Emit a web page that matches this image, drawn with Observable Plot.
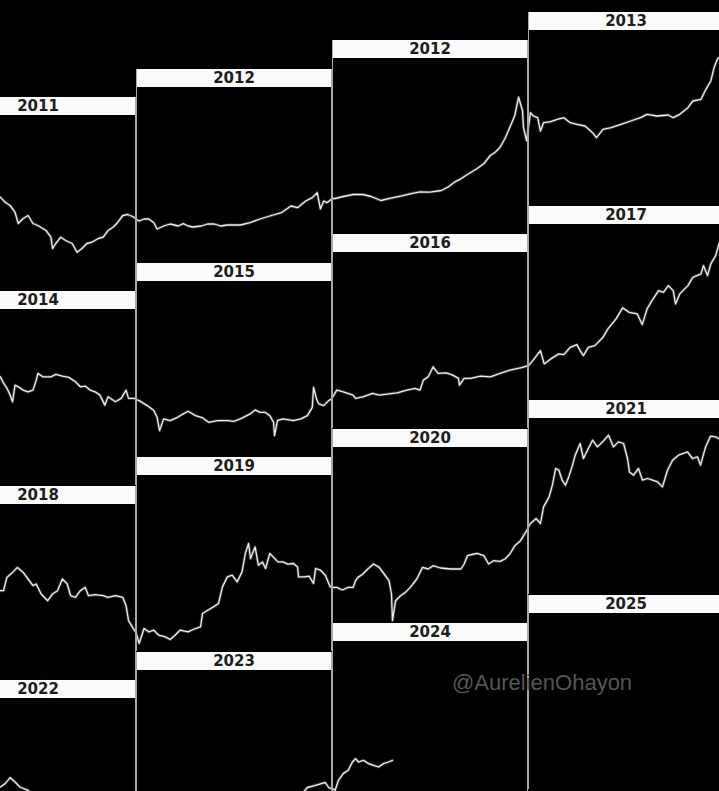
<!DOCTYPE html>
<html><head><meta charset="utf-8">
<script src="https://cdn.jsdelivr.net/npm/d3@7"></script>
<script src="https://cdn.jsdelivr.net/npm/@observablehq/plot@0.6"></script>
<style>
html,body{margin:0;padding:0;background:#000;}
#chart{position:relative;width:719px;height:791px;overflow:hidden;background:#000;}
.panel{position:absolute;width:194px;border-left:1px solid #a9a9a9;border-right:1px solid #a9a9a9;background:#000;}
.label{height:18px;line-height:18px;background:#fbfbfb;color:#1d1d1d;font:bold 15px "DejaVu Sans",sans-serif;text-align:center;}
.panel svg{display:block;}
.wm{position:absolute;left:452px;top:672px;font:22px "Liberation Sans",Arial,sans-serif;color:#555;line-height:22px;white-space:nowrap;}
</style></head><body><div id="chart"></div>
<script>
// Year label of each panel, row by row (4 columns per row)
const yearLabels = [
  ["2011","2012","2012","2013"],
  ["2014","2015","2016","2017"],
  ["2018","2019","2020","2021"],
  ["2022","2023","2024","2025"]
];
// Each row: [month since row start (12 per column), price level]
const rowA = [[3.6,94.3],[3.9,89.3],[4.2,86],[4.5,79.3],[4.7,68],[5.0,73],[5.3,76],[5.6,68],[5.9,66],[6.4,61],[6.7,54.3],[6.8,43],[7.0,48],[7.3,54.3],[7.6,51],[8.0,48],[8.3,39.3],[8.6,43],[8.9,48],[9.2,49.3],[9.6,53],[9.9,54.3],[10.2,61],[10.5,64.3],[10.8,69.3],[11.1,76],[11.4,77],[11.7,75],[11.9,73],[12.1,71],[12.4,73],[12.7,73],[13.0,69.3],[13.2,63],[13.6,66],[14.0,68],[14.5,66],[14.8,68.3],[15.1,66],[15.4,65],[15.9,66],[16.3,68],[16.7,68],[17.1,66],[17.5,67],[18.3,67],[18.9,69.3],[19.5,73],[20.1,76],[20.8,79.3],[21.4,86],[21.8,84.3],[22.3,91],[22.7,94.3],[23.0,99.3],[23.2,83],[23.4,91],[23.6,89.3],[23.9,93],[24.1,93],[24.6,95],[25.2,97],[25.8,97],[26.3,95],[26.9,91],[27.5,93.3],[28.1,95.3],[28.7,97.7],[29.3,99.7],[29.9,99.3],[30.6,101],[31.0,104.3],[31.4,109.3],[31.8,112.7],[32.1,116],[32.4,119],[32.8,123],[33.2,127.7],[33.6,136],[33.9,139.3],[34.2,144.3],[34.5,153],[34.8,164.3],[35.1,176],[35.33,194.3],[35.57,181],[35.63,164.3],[35.82,151],[36.06,179.3],[36.24,176],[36.5,174.3],[36.67,161],[36.86,169.3],[37.3,170.3],[37.7,172.7],[38.1,174.3],[38.5,169.3],[38.9,167.7],[39.4,166],[39.86,159.3],[40.1,154.3],[40.5,162.7],[41.0,164.3],[41.6,167.7],[42.2,171],[42.8,174.3],[43.2,177.7],[43.8,176],[44.5,177],[44.8,174.3],[45.2,177.7],[45.7,184.3],[46.0,191],[46.5,192.7],[46.8,202.7],[47.1,211],[47.3,224.3],[47.5,232.7],[47.7,236]];
const rowB = [[3.6,108.7],[3.8,102.4],[4.0,97.4],[4.2,90.4],[4.35,83.7],[4.5,100.4],[4.7,98.7],[5.0,95.4],[5.3,93.7],[5.6,95.4],[5.8,105.4],[5.9,112.1],[6.2,108.7],[6.7,108.7],[7.0,111.1],[7.4,109.4],[7.8,108.1],[8.2,103.7],[8.5,98.7],[8.8,99.4],[9.1,95.4],[9.4,93.7],[9.7,90.4],[10.0,80.4],[10.2,88.7],[10.65,83.7],[11.0,87.1],[11.3,95.4],[11.45,87.1],[11.8,87.1],[12.1,85.4],[12.6,80.4],[13.0,75.4],[13.2,68.7],[13.35,55.4],[13.6,67.1],[14.0,65.4],[14.45,68.7],[14.8,72.1],[15.1,74.7],[15.55,70.4],[16.0,68.1],[16.35,63.7],[16.9,65.4],[17.5,65.4],[17.9,64.7],[18.3,67.1],[18.9,72.1],[19.2,76.1],[19.5,73.7],[19.8,73.7],[20.1,70.4],[20.33,63.7],[20.39,50.4],[20.57,65.4],[20.9,67.1],[21.55,65.4],[22.0,67.1],[22.4,70.4],[22.7,78.7],[22.78,98.7],[22.96,87.1],[23.1,82.1],[23.4,80.4],[23.7,85.4],[23.9,87.1],[24.2,95.4],[24.6,93.7],[25.2,90.4],[25.35,87.1],[25.8,88.7],[26.4,92.1],[26.8,90.4],[27.3,91.4],[27.9,92.7],[28.5,95.4],[29.0,97.1],[29.3,95.4],[29.5,105.4],[29.8,108.7],[30.1,118.7],[30.4,112.1],[30.9,112.7],[31.3,110.4],[31.65,107.1],[31.71,100.4],[32.0,107.1],[32.4,107.1],[33.0,109.4],[33.6,108.7],[34.2,112.1],[34.8,115.4],[35.45,117.7],[35.9,119.7],[36.2,125.4],[36.67,135.4],[36.9,122.1],[37.3,127.1],[37.8,132.1],[38.1,131.4],[38.5,138.7],[38.9,141.4],[39.1,135.4],[39.3,130.4],[39.6,138.7],[40.0,140.4],[40.5,148.7],[40.8,157.1],[41.3,167.1],[41.7,178.1],[42.1,173.7],[42.6,172.1],[42.9,161.4],[43.2,177.1],[43.5,185.4],[43.9,195.4],[44.2,193.7],[44.5,200.4],[44.8,195.4],[44.94,182.1],[45.2,192.1],[45.7,200.4],[46.0,208.7],[46.5,212.1],[46.65,220.4],[46.9,210.4],[47.1,222.1],[47.4,230.4],[47.6,242.1],[47.7,246]];
const rowC = [[3.6,89.8],[3.8,89.8],[4.0,103.1],[4.35,108.1],[4.65,113.1],[5.0,108.1],[5.3,101.5],[5.6,94.8],[5.8,96.5],[6.1,86.5],[6.5,79.8],[6.8,86.5],[7.1,89.8],[7.4,101.5],[7.7,96.5],[7.9,84.8],[8.2,83.1],[8.5,89.8],[8.8,93.1],[9.0,84.8],[9.4,85.8],[9.9,84.8],[10.2,83.1],[10.65,84.8],[11.1,83.1],[11.3,74.8],[11.45,59.8],[11.7,53.1],[11.9,48.1],[12.1,36.5],[12.4,51.5],[12.7,48.1],[13.0,49.8],[13.3,44.8],[13.7,43.1],[14.0,40.5],[14.3,44.8],[14.6,49.8],[15.1,48.1],[15.4,50.5],[15.86,53.1],[15.98,66.5],[16.3,69.8],[16.65,73.1],[16.96,76.5],[17.2,93.1],[17.5,103.1],[17.8,104.8],[18.1,98.1],[18.4,108.1],[18.6,126.5],[18.8,136.5],[18.92,121.5],[19.2,133.1],[19.4,114.8],[19.65,118.1],[19.84,111.5],[20.1,126.5],[20.3,123.1],[20.6,118.1],[20.9,118.1],[21.2,115.8],[21.55,116.5],[21.8,113.1],[21.86,103.1],[22.2,103.1],[22.5,103.8],[22.78,96.5],[22.9,111.5],[23.2,109.8],[23.5,104.8],[23.8,93.1],[24.2,93.1],[24.55,90.5],[24.9,93.1],[25.2,93.1],[25.35,99.8],[25.5,103.1],[25.8,106.5],[26.1,111.5],[26.45,116.5],[26.8,113.1],[27.1,106.5],[27.4,99.8],[27.55,86.5],[27.61,59.8],[27.8,79.8],[28.1,84.8],[28.4,88.1],[28.7,93.1],[29.1,101.5],[29.45,113.1],[29.8,111.5],[30.1,114.8],[30.55,112.5],[31.2,111.5],[31.8,111.5],[32.0,116.5],[32.2,124.8],[32.6,126.5],[32.8,127.1],[33.2,124.8],[33.5,116.5],[33.8,119.8],[34.2,119.1],[34.5,121.5],[34.8,126.5],[35.1,134.8],[35.45,139.8],[35.76,148.1],[36.06,156.5],[36.4,161.5],[36.67,156.5],[36.86,173.1],[37.2,183.1],[37.4,194.8],[37.6,211.5],[37.8,209.8],[38.0,199.8],[38.2,194.8],[38.4,203.1],[38.6,213.1],[38.8,224.8],[39.1,236.5],[39.3,221.5],[39.55,229.8],[39.86,239.8],[40.16,233.1],[40.47,238.1],[40.84,244.8],[41.14,233.1],[41.45,238.1],[41.76,236.5],[42.0,221.5],[42.12,208.1],[42.37,204.8],[42.67,211.5],[42.92,199.8],[43.22,201.5],[43.53,199.8],[43.84,198.1],[44.14,193.1],[44.45,209.8],[44.76,219.8],[45.12,224.8],[45.67,228.1],[45.98,221.5],[46.29,223.1],[46.47,214.8],[46.78,233.1],[47.08,243.8],[47.39,243.1],[47.57,241.5],[47.7,240]];
const rowD = [[3.6,87.5],[3.9,90.9],[4.2,96.9],[4.5,92.5],[4.8,87.5],[5.3,84.2],[6.0,74],[7.5,62],[9.0,55],[11.0,48],[13.0,45],[15.0,50],[17.0,58],[19.0,66],[21.0,74],[22.0,80],[22.4,87.5],[22.8,89.2],[23.2,91.2],[23.5,92.5],[23.7,87.5],[23.9,86.2],[24.1,84.2],[24.3,94.2],[24.6,100.9],[24.9,104.2],[25.16,112.5],[25.35,115.9],[25.53,112.5],[25.84,114.2],[26.14,110.9],[26.45,109.2],[26.76,107.5],[27.06,110.9],[27.37,112.5],[27.61,114.2]];
const rows = [rowA, rowB, rowC, rowD];
const watermark = "@AurelienOhayon";

// layout constants
const colPitch = 196, panelW = 194, plotH = 176, labelH = 18;
const rowPitch = 194.4, colStep = 28.5, firstLeft = -59, firstTop = 97;
const monthsPerCol = 12;

const chart = document.getElementById("chart");
rows.forEach((data, r) => {
  for (let c = 0; c < 4; c++) {
    const div = document.createElement("div");
    div.className = "panel";
    div.style.left = (firstLeft - 1 + colPitch * c) + "px";
    div.style.top = (firstTop - colStep * c + rowPitch * r) + "px";
    const lab = document.createElement("div");
    lab.className = "label";
    lab.textContent = yearLabels[r][c];
    div.appendChild(lab);
    const x0 = c * monthsPerCol;
    const y0 = colStep * c;
    const plot = Plot.plot({
      width: panelW, height: plotH, margin: 0,
      x: {axis: null, domain: [x0, x0 + monthsPerCol * panelW / colPitch]},
      y: {axis: null, domain: [y0, y0 + plotH]},
      style: {background: "#000"},
      marks: [
        Plot.line(data, {x: d => d[0], y: d => d[1], stroke: "#9a9a9a", strokeWidth: 3, strokeOpacity: 0.35, clip: true}),
        Plot.line(data, {x: d => d[0], y: d => d[1], stroke: "#eeeeee", strokeWidth: 1.3, clip: true})
      ]
    });
    div.appendChild(plot);
    chart.appendChild(div);
  }
});
const wm = document.createElement("div");
wm.className = "wm";
wm.textContent = watermark;
chart.appendChild(wm);
</script></body></html>
